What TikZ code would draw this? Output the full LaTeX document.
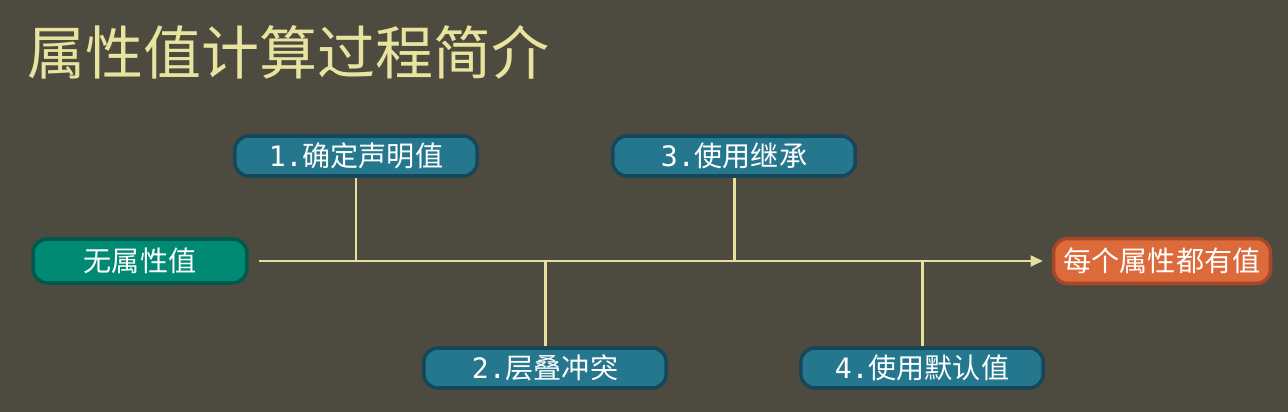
\documentclass[tikz,border=0pt]{standalone}
\usepackage{fontspec}
\setmainfont{Noto Sans CJK SC}
\newfontfamily\numfont{DejaVu Sans Mono}
\usetikzlibrary{positioning}
\usetikzlibrary{arrows.meta}
\usepackage{xcolor}
\definecolor{bgcol}{HTML}{4D4A3F}
\definecolor{titlecol}{HTML}{E8E4A0}
\definecolor{linecol}{HTML}{E6DF9E}
\definecolor{stepfill}{HTML}{25778E}
\definecolor{stepline}{HTML}{17465A}
\definecolor{startfill}{HTML}{008A73}
\definecolor{startline}{HTML}{005A4C}
\definecolor{endfill}{HTML}{DD6A3A}
\definecolor{endline}{HTML}{A5482A}

\begin{document}
\begin{tikzpicture}[x=0.02cm,y=-0.02cm,
    stepbox/.style={draw=stepline, fill=stepfill, line width=2pt, rounded corners=8pt,
        minimum width=4.85cm, minimum height=0.8cm, text=white, font=\fontsize{16}{18}\selectfont},
    flow/.style={draw=linecol, line width=1.7pt}]
            % background and title
            \fill[bgcol] (0,0) rectangle (1288,412);
            \useasboundingbox (0,0) rectangle (1288,412);
            \node[anchor=west, text=titlecol, font=\fontsize{33}{38}\selectfont] (title) at (21,52) {属性值计算过程简介};

            % start and result
            \node[stepbox, draw=startline, fill=startfill, minimum width=4.28cm, minimum height=0.88cm] (start) at (140,261) {无属性值};
            \node[stepbox, draw=endline, fill=endfill, minimum width=4.34cm, minimum height=0.9cm] (result) at (1162,261) {每个属性都有值};

            % steps
            \node[stepbox] (decl) at (356,156) {{\numfont 1.}确定声明值};
            \node[stepbox] (cascade) at (545,368) {{\numfont 2.}层叠冲突};
            \node[stepbox] (inherit) at (734,156) {{\numfont 3.}使用继承};
            \node[stepbox] (default) at (922,368) {{\numfont 4.}使用默认值};

            % connectors
            \draw[flow, -{Triangle[length=7pt,width=6pt]}, shorten <=6pt, shorten >=5pt] (start) -- (result);
            \draw[flow] (decl) -- (decl |- start);
            \draw[flow] (cascade) -- (cascade |- start);
            \draw[flow] (inherit) -- (inherit |- start);
            \draw[flow] (default) -- (default |- start);
        \end{tikzpicture}
\end{document}
